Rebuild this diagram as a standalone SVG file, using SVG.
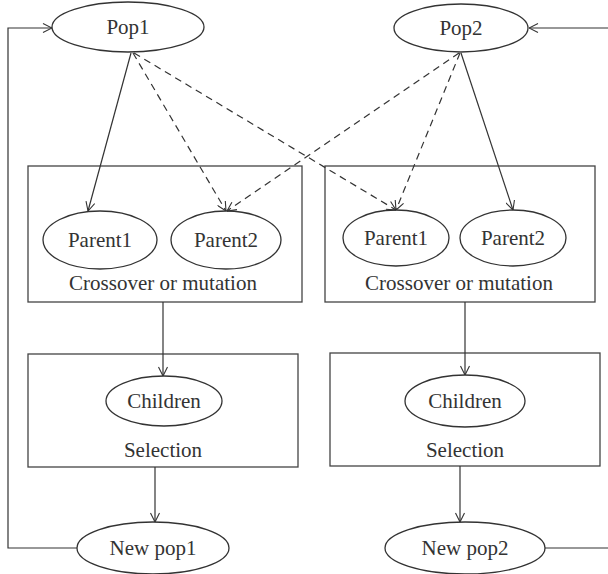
<svg xmlns="http://www.w3.org/2000/svg" width="608" height="574" viewBox="0 0 608 574">
<defs>
<marker id="arr" viewBox="0 0 10 10" refX="10" refY="5" markerWidth="10" markerHeight="10" markerUnits="userSpaceOnUse" orient="auto">
<path d="M1,0.5 L10,5 L1,9.5" fill="none" stroke="#333" stroke-width="1.1"/>
</marker>
</defs>
<style>
.n{fill:#fff;stroke:#333;stroke-width:1.3}
.b{fill:#fff;stroke:#444;stroke-width:1.3}
.t{font-family:"Liberation Serif","Times New Roman",serif;font-size:21px;fill:#333;text-anchor:middle}
.c{fill:none;stroke:#333;stroke-width:1.2}
.d{stroke-dasharray:7,5}
</style>
<g id="box-crossover1"><rect class="b" x="28" y="166" width="274" height="136"/><text class="t" x="163" y="290">Crossover or mutation</text></g>
<g id="box-crossover2"><rect class="b" x="325" y="166" width="270" height="136"/><text class="t" x="459" y="290">Crossover or mutation</text></g>
<g id="box-selection1"><rect class="b" x="28" y="354" width="270" height="113"/><text class="t" x="163" y="457">Selection</text></g>
<g id="box-selection2"><rect class="b" x="330" y="353" width="270" height="113"/><text class="t" x="465" y="457">Selection</text></g>
<g id="pop1"><ellipse class="n" cx="128" cy="27" rx="76" ry="25"/><text class="t" x="128" y="34">Pop1</text></g>
<g id="pop2"><ellipse class="n" cx="461" cy="28" rx="67" ry="24"/><text class="t" x="461" y="35">Pop2</text></g>
<g id="parent1-left"><ellipse class="n" cx="100" cy="240" rx="57" ry="29"/><text class="t" x="100" y="247">Parent1</text></g>
<g id="parent2-left"><ellipse class="n" cx="226" cy="240" rx="55" ry="29"/><text class="t" x="226" y="247">Parent2</text></g>
<g id="parent1-right"><ellipse class="n" cx="396" cy="238" rx="53" ry="28"/><text class="t" x="396" y="245">Parent1</text></g>
<g id="parent2-right"><ellipse class="n" cx="513" cy="238" rx="53" ry="28"/><text class="t" x="513" y="245">Parent2</text></g>
<g id="children-left"><ellipse class="n" cx="164" cy="401" rx="58" ry="25"/><text class="t" x="164" y="408">Children</text></g>
<g id="children-right"><ellipse class="n" cx="465" cy="401" rx="60" ry="26"/><text class="t" x="465" y="408">Children</text></g>
<g id="newpop1"><ellipse class="n" cx="153" cy="548" rx="76" ry="26"/><text class="t" x="153" y="555">New pop1</text></g>
<g id="newpop2"><ellipse class="n" cx="465" cy="548" rx="80" ry="26"/><text class="t" x="465" y="555">New pop2</text></g>
<g id="connectors">
<line class="c" x1="131" y1="53" x2="88" y2="211" marker-end="url(#arr)"/>
<line class="c d" x1="133" y1="53" x2="226" y2="211" marker-end="url(#arr)"/>
<line class="c d" x1="134" y1="53" x2="396" y2="210" marker-end="url(#arr)"/>
<line class="c d" x1="459" y1="53" x2="227" y2="211" marker-end="url(#arr)"/>
<line class="c d" x1="460" y1="53" x2="396" y2="210" marker-end="url(#arr)"/>
<line class="c" x1="461" y1="53" x2="513" y2="210" marker-end="url(#arr)"/>
<line class="c" x1="163" y1="302" x2="163" y2="376" marker-end="url(#arr)"/>
<line class="c" x1="465" y1="302" x2="465" y2="375" marker-end="url(#arr)"/>
<line class="c" x1="155" y1="467" x2="155" y2="522" marker-end="url(#arr)"/>
<line class="c" x1="460" y1="466" x2="460" y2="522" marker-end="url(#arr)"/>
<polyline class="c" points="77,548 8,548 8,28 52,28" marker-end="url(#arr)"/>
<polyline class="c" points="545,548 610,548 610,28 529,28" marker-end="url(#arr)"/>
</g>
</svg>
